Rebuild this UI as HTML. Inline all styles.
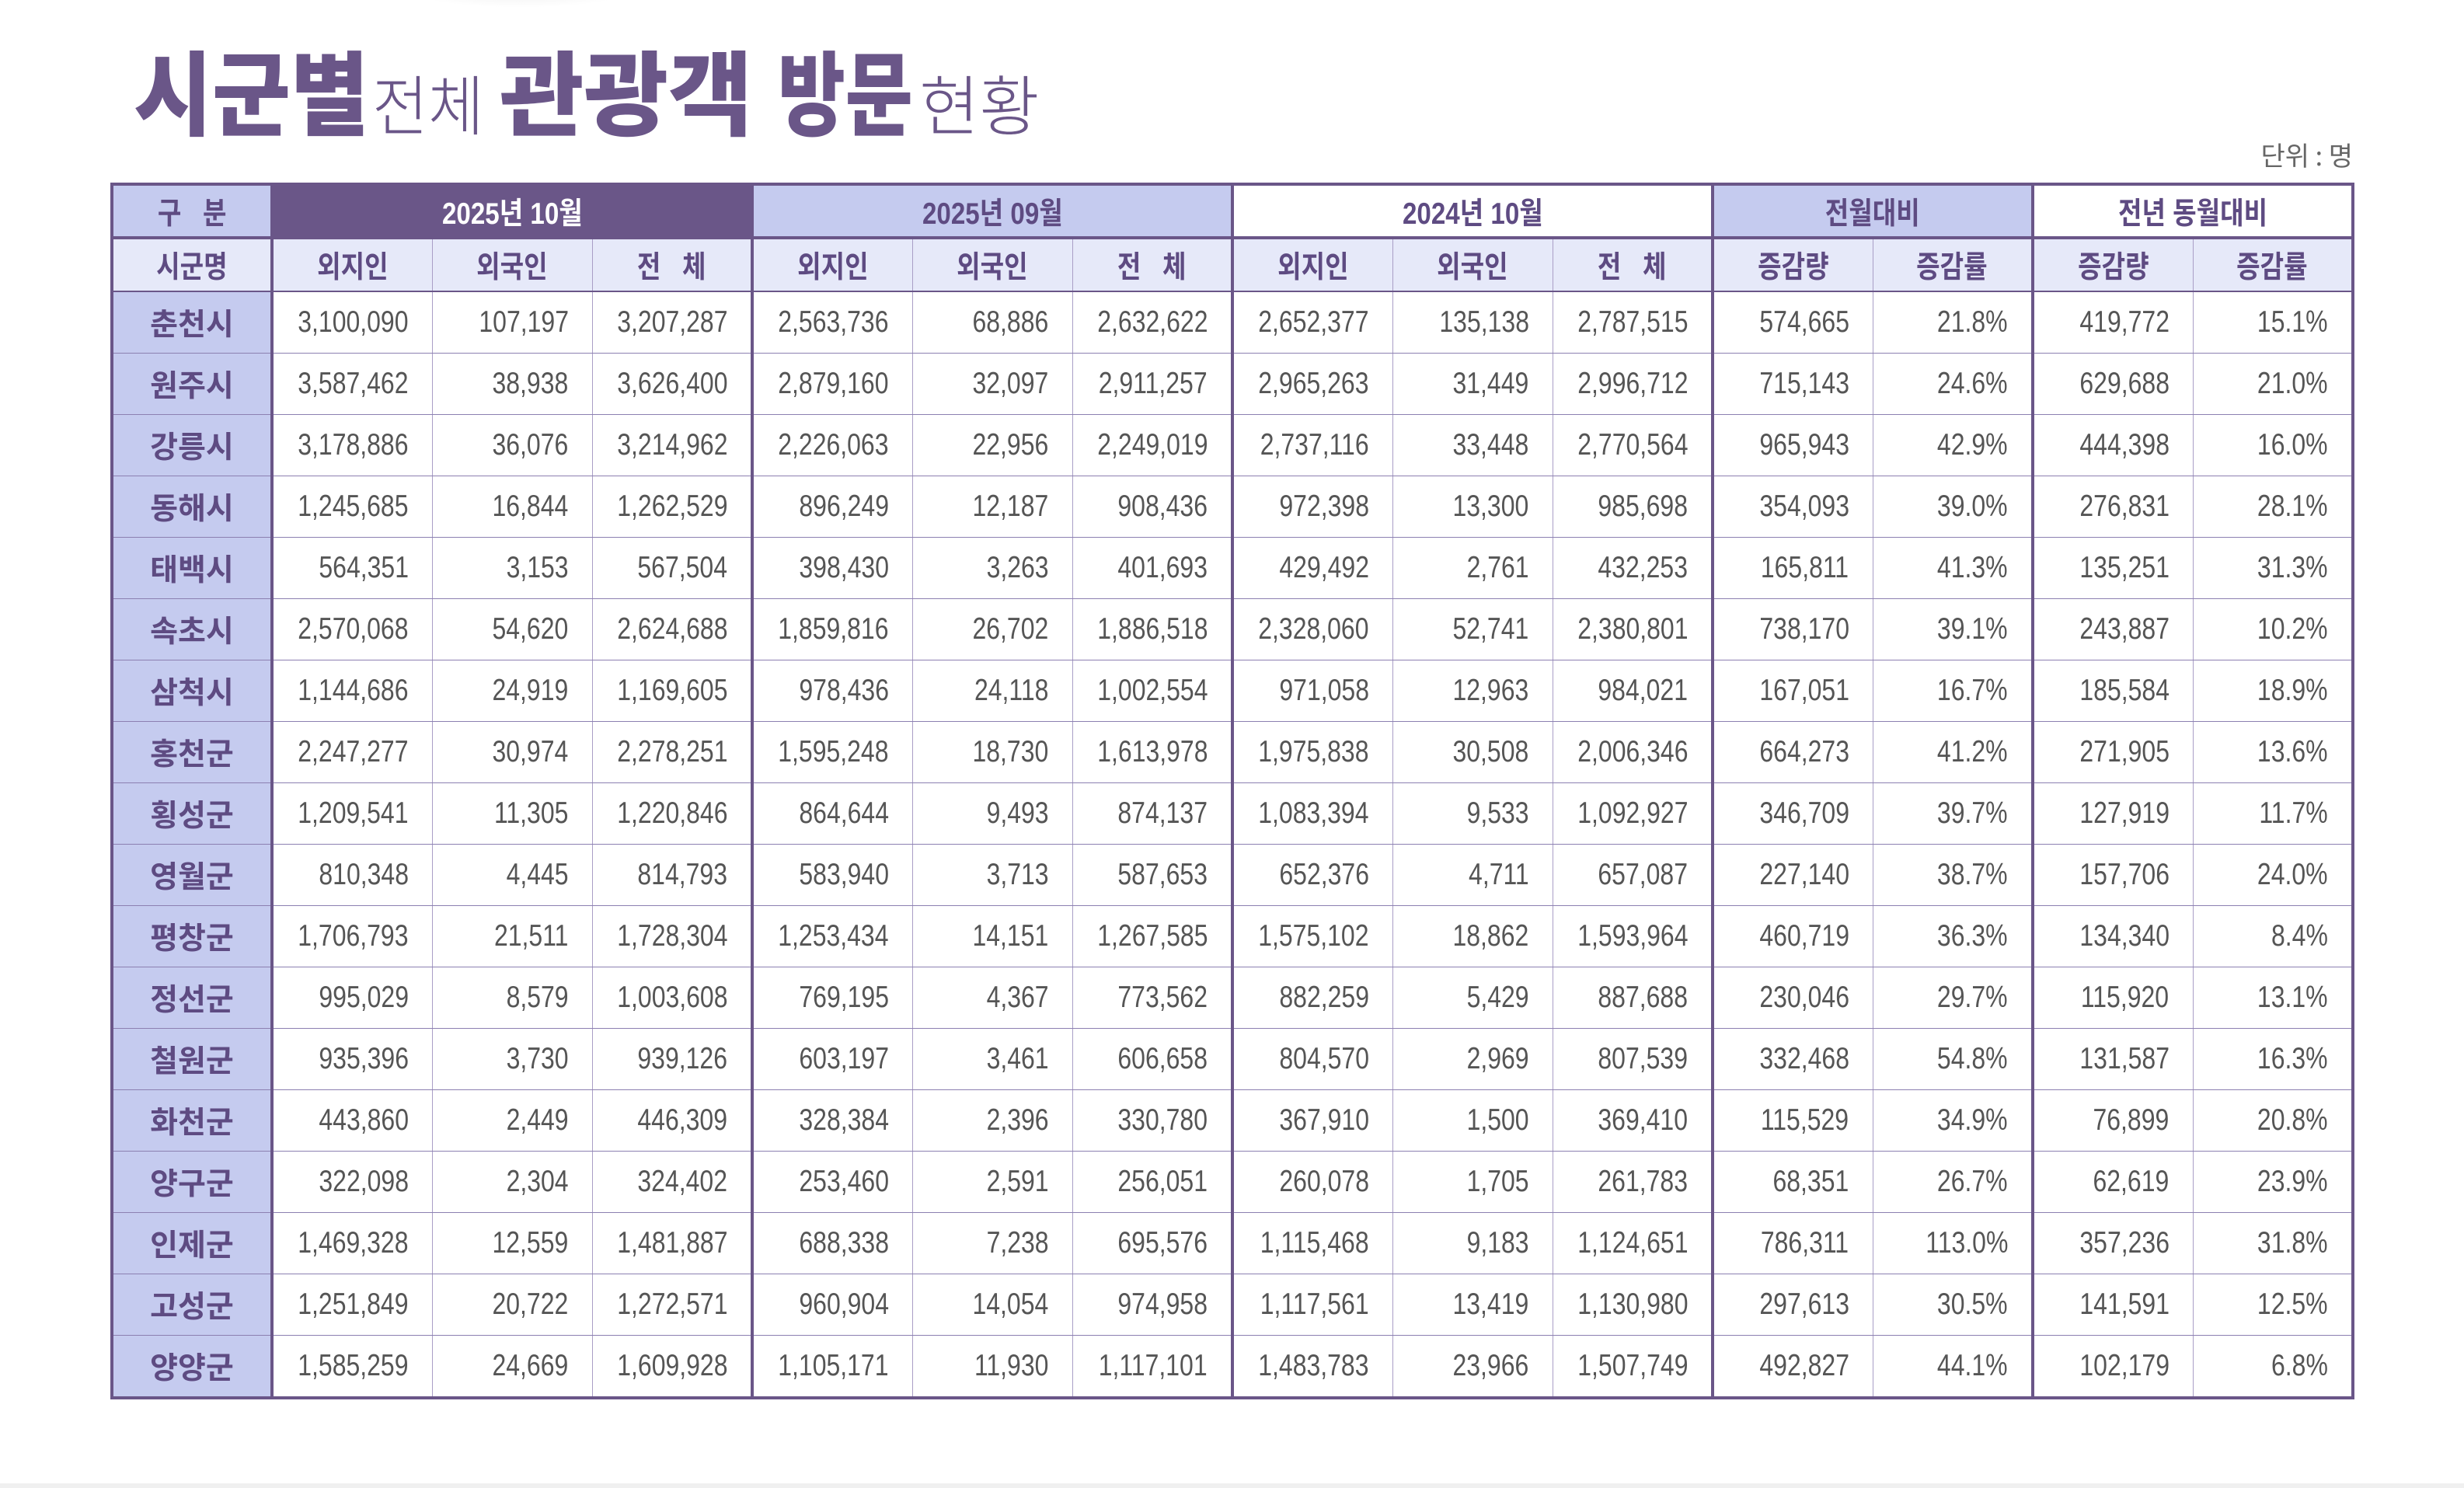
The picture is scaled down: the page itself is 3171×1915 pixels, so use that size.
<!DOCTYPE html>
<html><head><meta charset="utf-8"><style>
html,body{margin:0;padding:0;background:#fff;}
body{width:3171px;height:1915px;position:relative;overflow:hidden;font-family:"Liberation Sans","Noto Sans CJK KR",sans-serif;}
.w{position:absolute;white-space:nowrap;color:#6a5688;line-height:1;transform-origin:left top;}
.b{font-weight:900;font-size:118px;top:66px;}
.l{font-weight:300;font-size:84px;top:96px;}
.unit{position:absolute;right:143px;top:174px;font-size:34px;color:#666;font-family:"Noto Sans CJK KR",sans-serif;}
table{position:absolute;left:142px;top:235px;width:2885px;border-collapse:collapse;table-layout:fixed;border:4px solid #6a5688;}
td{border:1.5px solid #a99ec6;padding:0;text-align:center;}
tr.h1 td{height:65px;font-weight:700;font-size:39px;color:#5e4b82;border-bottom:4px solid #6a5688;}
tr.h2 td{height:66px;font-weight:700;font-size:39px;color:#5e4b82;background:#e6e9f9;border-bottom:2.5px solid #6a5688;}
tr.d td{height:78px;border-bottom:1.5px solid #8c80b1;font-size:39px;color:#555;text-align:right;padding-right:30px;}
tr.d td.n{text-align:center;padding-right:0;font-weight:700;color:#5e4b82;background:#c5cbef;}
td.g{border-left:4px solid #6a5688;}
.dk{background:#6a5688;color:#fff !important;}
.lv{background:#c5cbef;}
.wh{background:#fff;}
tr.d td span{display:inline-block;transform:scaleX(0.82);transform-origin:right center;}
.hh{display:inline-block;transform:scaleX(0.85);}
.foot{position:absolute;left:0;right:0;bottom:0;height:6px;background:#f0f0f0;}
.shadow{position:absolute;left:520px;top:-40px;width:300px;height:50px;border-radius:50%;background:radial-gradient(ellipse,#eee 0%,#fff 70%);}
</style></head><body>
<div class="shadow"></div>
<div class="w b" style="left:172px;transform:scaleX(0.93)">시군별</div>
<div class="w l" style="left:479px;transform:scaleX(0.93)">전체</div>
<div class="w b" style="left:643px;">관광객</div>
<div class="w b" style="left:1001px;transform:scaleX(0.8)">방문</div>
<div class="w l" style="left:1183px;">현황</div>
<div class="unit">단위 : 명</div>
<table>
<colgroup><col style="width:206px"><col span="13" style="width:206px"></colgroup>
<tr class="h1"><td class="lv"><span class="hh">구&nbsp;&nbsp;&nbsp;분</span></td><td colspan="3" class="g dk"><span class="hh">2025년 10월</span></td><td colspan="3" class="g lv"><span class="hh">2025년 09월</span></td><td colspan="3" class="g wh"><span class="hh">2024년 10월</span></td><td colspan="2" class="g lv"><span class="hh">전월대비</span></td><td colspan="2" class="g wh"><span class="hh">전년 동월대비</span></td></tr>
<tr class="h2"><td><span class="hh">시군명</span></td><td class="g"><span class="hh">외지인</span></td><td><span class="hh">외국인</span></td><td><span class="hh">전&nbsp;&nbsp;&nbsp;체</span></td><td class="g"><span class="hh">외지인</span></td><td><span class="hh">외국인</span></td><td><span class="hh">전&nbsp;&nbsp;&nbsp;체</span></td><td class="g"><span class="hh">외지인</span></td><td><span class="hh">외국인</span></td><td><span class="hh">전&nbsp;&nbsp;&nbsp;체</span></td><td class="g"><span class="hh">증감량</span></td><td><span class="hh">증감률</span></td><td class="g"><span class="hh">증감량</span></td><td><span class="hh">증감률</span></td></tr>
<tr class="d"><td class="n">춘천시</td><td class="g"><span>3,100,090</span></td><td><span>107,197</span></td><td><span>3,207,287</span></td><td class="g"><span>2,563,736</span></td><td><span>68,886</span></td><td><span>2,632,622</span></td><td class="g"><span>2,652,377</span></td><td><span>135,138</span></td><td><span>2,787,515</span></td><td class="g"><span>574,665</span></td><td><span>21.8%</span></td><td class="g"><span>419,772</span></td><td><span>15.1%</span></td></tr>
<tr class="d"><td class="n">원주시</td><td class="g"><span>3,587,462</span></td><td><span>38,938</span></td><td><span>3,626,400</span></td><td class="g"><span>2,879,160</span></td><td><span>32,097</span></td><td><span>2,911,257</span></td><td class="g"><span>2,965,263</span></td><td><span>31,449</span></td><td><span>2,996,712</span></td><td class="g"><span>715,143</span></td><td><span>24.6%</span></td><td class="g"><span>629,688</span></td><td><span>21.0%</span></td></tr>
<tr class="d"><td class="n">강릉시</td><td class="g"><span>3,178,886</span></td><td><span>36,076</span></td><td><span>3,214,962</span></td><td class="g"><span>2,226,063</span></td><td><span>22,956</span></td><td><span>2,249,019</span></td><td class="g"><span>2,737,116</span></td><td><span>33,448</span></td><td><span>2,770,564</span></td><td class="g"><span>965,943</span></td><td><span>42.9%</span></td><td class="g"><span>444,398</span></td><td><span>16.0%</span></td></tr>
<tr class="d"><td class="n">동해시</td><td class="g"><span>1,245,685</span></td><td><span>16,844</span></td><td><span>1,262,529</span></td><td class="g"><span>896,249</span></td><td><span>12,187</span></td><td><span>908,436</span></td><td class="g"><span>972,398</span></td><td><span>13,300</span></td><td><span>985,698</span></td><td class="g"><span>354,093</span></td><td><span>39.0%</span></td><td class="g"><span>276,831</span></td><td><span>28.1%</span></td></tr>
<tr class="d"><td class="n">태백시</td><td class="g"><span>564,351</span></td><td><span>3,153</span></td><td><span>567,504</span></td><td class="g"><span>398,430</span></td><td><span>3,263</span></td><td><span>401,693</span></td><td class="g"><span>429,492</span></td><td><span>2,761</span></td><td><span>432,253</span></td><td class="g"><span>165,811</span></td><td><span>41.3%</span></td><td class="g"><span>135,251</span></td><td><span>31.3%</span></td></tr>
<tr class="d"><td class="n">속초시</td><td class="g"><span>2,570,068</span></td><td><span>54,620</span></td><td><span>2,624,688</span></td><td class="g"><span>1,859,816</span></td><td><span>26,702</span></td><td><span>1,886,518</span></td><td class="g"><span>2,328,060</span></td><td><span>52,741</span></td><td><span>2,380,801</span></td><td class="g"><span>738,170</span></td><td><span>39.1%</span></td><td class="g"><span>243,887</span></td><td><span>10.2%</span></td></tr>
<tr class="d"><td class="n">삼척시</td><td class="g"><span>1,144,686</span></td><td><span>24,919</span></td><td><span>1,169,605</span></td><td class="g"><span>978,436</span></td><td><span>24,118</span></td><td><span>1,002,554</span></td><td class="g"><span>971,058</span></td><td><span>12,963</span></td><td><span>984,021</span></td><td class="g"><span>167,051</span></td><td><span>16.7%</span></td><td class="g"><span>185,584</span></td><td><span>18.9%</span></td></tr>
<tr class="d"><td class="n">홍천군</td><td class="g"><span>2,247,277</span></td><td><span>30,974</span></td><td><span>2,278,251</span></td><td class="g"><span>1,595,248</span></td><td><span>18,730</span></td><td><span>1,613,978</span></td><td class="g"><span>1,975,838</span></td><td><span>30,508</span></td><td><span>2,006,346</span></td><td class="g"><span>664,273</span></td><td><span>41.2%</span></td><td class="g"><span>271,905</span></td><td><span>13.6%</span></td></tr>
<tr class="d"><td class="n">횡성군</td><td class="g"><span>1,209,541</span></td><td><span>11,305</span></td><td><span>1,220,846</span></td><td class="g"><span>864,644</span></td><td><span>9,493</span></td><td><span>874,137</span></td><td class="g"><span>1,083,394</span></td><td><span>9,533</span></td><td><span>1,092,927</span></td><td class="g"><span>346,709</span></td><td><span>39.7%</span></td><td class="g"><span>127,919</span></td><td><span>11.7%</span></td></tr>
<tr class="d"><td class="n">영월군</td><td class="g"><span>810,348</span></td><td><span>4,445</span></td><td><span>814,793</span></td><td class="g"><span>583,940</span></td><td><span>3,713</span></td><td><span>587,653</span></td><td class="g"><span>652,376</span></td><td><span>4,711</span></td><td><span>657,087</span></td><td class="g"><span>227,140</span></td><td><span>38.7%</span></td><td class="g"><span>157,706</span></td><td><span>24.0%</span></td></tr>
<tr class="d"><td class="n">평창군</td><td class="g"><span>1,706,793</span></td><td><span>21,511</span></td><td><span>1,728,304</span></td><td class="g"><span>1,253,434</span></td><td><span>14,151</span></td><td><span>1,267,585</span></td><td class="g"><span>1,575,102</span></td><td><span>18,862</span></td><td><span>1,593,964</span></td><td class="g"><span>460,719</span></td><td><span>36.3%</span></td><td class="g"><span>134,340</span></td><td><span>8.4%</span></td></tr>
<tr class="d"><td class="n">정선군</td><td class="g"><span>995,029</span></td><td><span>8,579</span></td><td><span>1,003,608</span></td><td class="g"><span>769,195</span></td><td><span>4,367</span></td><td><span>773,562</span></td><td class="g"><span>882,259</span></td><td><span>5,429</span></td><td><span>887,688</span></td><td class="g"><span>230,046</span></td><td><span>29.7%</span></td><td class="g"><span>115,920</span></td><td><span>13.1%</span></td></tr>
<tr class="d"><td class="n">철원군</td><td class="g"><span>935,396</span></td><td><span>3,730</span></td><td><span>939,126</span></td><td class="g"><span>603,197</span></td><td><span>3,461</span></td><td><span>606,658</span></td><td class="g"><span>804,570</span></td><td><span>2,969</span></td><td><span>807,539</span></td><td class="g"><span>332,468</span></td><td><span>54.8%</span></td><td class="g"><span>131,587</span></td><td><span>16.3%</span></td></tr>
<tr class="d"><td class="n">화천군</td><td class="g"><span>443,860</span></td><td><span>2,449</span></td><td><span>446,309</span></td><td class="g"><span>328,384</span></td><td><span>2,396</span></td><td><span>330,780</span></td><td class="g"><span>367,910</span></td><td><span>1,500</span></td><td><span>369,410</span></td><td class="g"><span>115,529</span></td><td><span>34.9%</span></td><td class="g"><span>76,899</span></td><td><span>20.8%</span></td></tr>
<tr class="d"><td class="n">양구군</td><td class="g"><span>322,098</span></td><td><span>2,304</span></td><td><span>324,402</span></td><td class="g"><span>253,460</span></td><td><span>2,591</span></td><td><span>256,051</span></td><td class="g"><span>260,078</span></td><td><span>1,705</span></td><td><span>261,783</span></td><td class="g"><span>68,351</span></td><td><span>26.7%</span></td><td class="g"><span>62,619</span></td><td><span>23.9%</span></td></tr>
<tr class="d"><td class="n">인제군</td><td class="g"><span>1,469,328</span></td><td><span>12,559</span></td><td><span>1,481,887</span></td><td class="g"><span>688,338</span></td><td><span>7,238</span></td><td><span>695,576</span></td><td class="g"><span>1,115,468</span></td><td><span>9,183</span></td><td><span>1,124,651</span></td><td class="g"><span>786,311</span></td><td><span>113.0%</span></td><td class="g"><span>357,236</span></td><td><span>31.8%</span></td></tr>
<tr class="d"><td class="n">고성군</td><td class="g"><span>1,251,849</span></td><td><span>20,722</span></td><td><span>1,272,571</span></td><td class="g"><span>960,904</span></td><td><span>14,054</span></td><td><span>974,958</span></td><td class="g"><span>1,117,561</span></td><td><span>13,419</span></td><td><span>1,130,980</span></td><td class="g"><span>297,613</span></td><td><span>30.5%</span></td><td class="g"><span>141,591</span></td><td><span>12.5%</span></td></tr>
<tr class="d"><td class="n">양양군</td><td class="g"><span>1,585,259</span></td><td><span>24,669</span></td><td><span>1,609,928</span></td><td class="g"><span>1,105,171</span></td><td><span>11,930</span></td><td><span>1,117,101</span></td><td class="g"><span>1,483,783</span></td><td><span>23,966</span></td><td><span>1,507,749</span></td><td class="g"><span>492,827</span></td><td><span>44.1%</span></td><td class="g"><span>102,179</span></td><td><span>6.8%</span></td></tr>
</table>
<div class="foot"></div>
</body></html>
